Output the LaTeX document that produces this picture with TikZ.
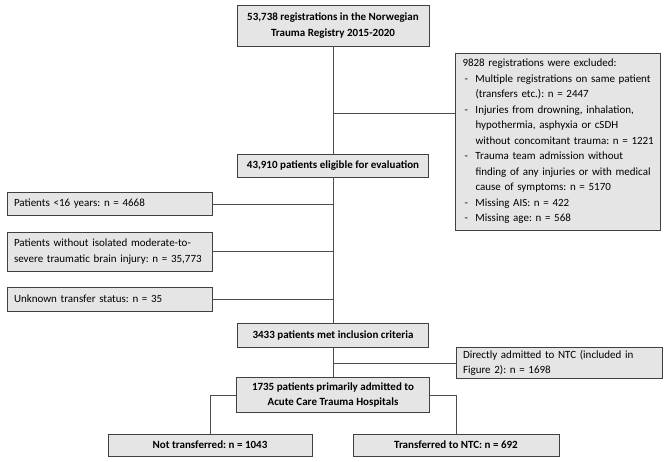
\documentclass[tikz,border=0pt]{standalone}
\usepackage{fontspec}
\setmainfont{Carlito}
\frenchspacing
\usetikzlibrary{shadows}

\newcommand{\itm}[1]{\makebox[13pt][l]{\hspace{2pt}-}\mbox{#1}}
\newcommand{\ind}[1]{\hspace*{13pt}\mbox{#1}}

\begin{document}
\begin{tikzpicture}[x=1pt, y=-1pt,
    box/.style={draw=black!75, line width=0.6pt, fill=black!10,
      drop shadow={shadow xshift=0.9pt, shadow yshift=-0.9pt, fill=black!65, opacity=1},
      font=\fontsize{11}{15.5}\selectfont, inner sep=0pt},
    mainbox/.style={box, font=\fontsize{11}{15.5}\selectfont\bfseries, align=center},
    sidebox/.style={box, align=left, inner xsep=7pt},
    link/.style={draw=black!70, line width=0.6pt}]

    \useasboundingbox (0,0) rectangle (669,461);

	% Main flow
	\node[mainbox, minimum width=192pt, minimum height=41pt] (reg) at (333,25.5)
	  {53,738 registrations in the Norwegian\\Trauma Registry 2015-2020};
	\node[mainbox, minimum width=191pt, minimum height=23pt] (elig) at (333,165.5)
	  {43,910 patients eligible for evaluation};
	\node[mainbox, minimum width=191pt, minimum height=24pt] (incl) at (333,335)
	  {3433 patients met inclusion criteria};
	\node[mainbox, minimum width=193pt, minimum height=35pt] (acth) at (333,395)
	  {1735 patients primarily admitted to\\Acute Care Trauma Hospitals};
	\node[mainbox, minimum width=204pt, minimum height=22pt] (nottr) at (210,445)
	  {Not transferred: n = 1043};
	\node[mainbox, minimum width=206pt, minimum height=22pt] (ntc) at (456,445)
	  {Transferred to NTC: n = 692};

	% Exclusions
	\node[sidebox, text width=190pt, inner xsep=7.5pt, minimum height=177pt] (excl) at (557.5,141.5)
	  {9828 registrations were excluded:\\
	   \itm{Multiple registrations on same patient}\\
	   \ind{(transfers etc.): n = 2447}\\
	   \itm{Injuries from drowning, inhalation,}\\
	   \ind{hypothermia, asphyxia or cSDH}\\
	   \ind{without concomitant trauma: n = 1221}\\
	   \itm{Trauma team admission without}\\
	   \ind{finding of any injuries or with medical}\\
	   \ind{cause of symptoms: n = 5170}\\
	   \itm{Missing AIS: n = 422}\\
	   \itm{Missing age: n = 568}};
	\node[sidebox, text width=191pt, minimum height=23pt] (young) at (109.5,204)
	  {Patients <16 years: n = 4668};
	\node[sidebox, text width=191pt, minimum height=39pt] (notbi) at (109.5,251.5)
	  {Patients without isolated moderate-to-\\severe traumatic brain injury: n = 35,773};
	\node[sidebox, text width=191pt, minimum height=24pt] (unkn) at (109.5,299)
	  {Unknown transfer status: n = 35};
	\node[sidebox, text width=192pt, minimum height=31pt] (direct) at (559,363)
	  {Directly admitted to NTC (included in\\Figure 2): n = 1698};

	% Connectors
	\coordinate (exj) at (333,113);
	\draw[link] (reg.south) -- (elig.north);
	\draw[link] (exj) -- (exj -| excl.west);
	\draw[link] (elig.south) -- (incl.north);
	\draw[link] (young.east) -- (young.east -| elig.south);
	\draw[link] (notbi.east) -- (notbi.east -| elig.south);
	\draw[link] (unkn.east) -- (unkn.east -| elig.south);
	\draw[link] (incl.south) -- (acth.north);
	\draw[link] (direct.west) -- (direct.west -| incl.south);
	\draw[link] (acth.west) -| (nottr.north);
	\draw[link] (acth.east) -| (ntc.north);

\end{tikzpicture}
\end{document}
